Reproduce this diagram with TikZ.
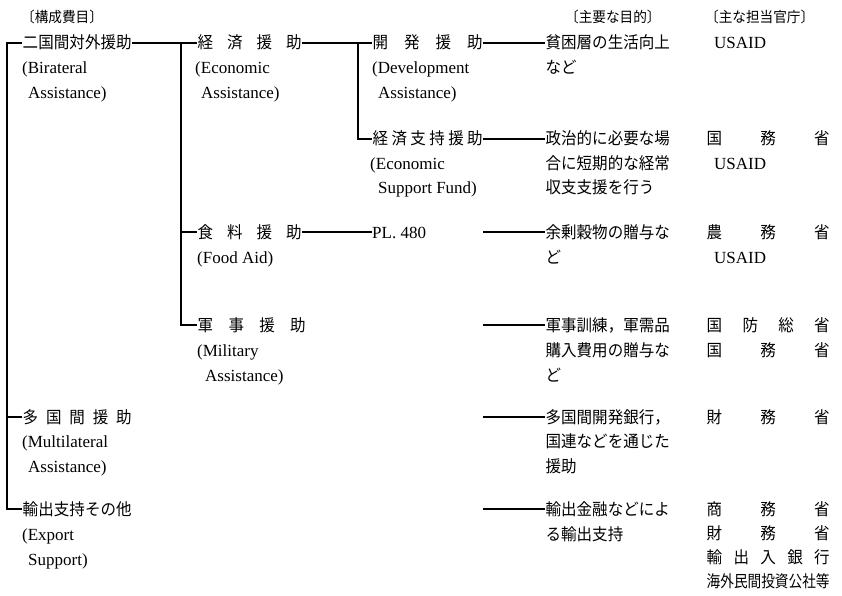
\documentclass[tikz,border=0pt]{standalone}
\usepackage{fontspec}
\usepackage{graphicx}
\setmainfont{Liberation Serif}
\newfontfamily\cjk[FakeStretch=0.94]{Noto Sans CJK JP}
\newcommand{\jw}[2]{\makebox[#1][s]{#2}}
\tikzset{
  lbl/.style={anchor=west, inner xsep=0.5pt, inner ysep=0pt, text height=13pt, text depth=1pt, font=\cjk\fontsize{16.5}{18}\selectfont},
  en/.style={anchor=west, inner sep=0pt, text height=13pt, text depth=1pt, font=\fontsize{17}{18}\selectfont},
  hdr/.style={anchor=west, inner sep=0pt, text height=13pt, text depth=1pt, font=\cjk\fontsize{14.5}{16}\selectfont},
  conn/.style={line width=1.3pt, line join=miter},
}
\begin{document}
\begin{tikzpicture}[x=1pt, y=-1pt]
\useasboundingbox (0,0) rectangle (842,596);
% headers
\node[hdr] (h1) at (21,17) {〔構成費目〕};
\node[hdr] (h2) at (565,17) {〔主要な目的〕};
\node[hdr] (h3) at (705,17) {〔主な担当官庁〕};
% trunk coordinates
\coordinate (t1) at (7,0);
\coordinate (t2) at (181,0);
\coordinate (t3) at (358,0);
\coordinate (c3) at (483,0);
% row 1
\node[lbl] (bil) at (22,43) {\jw{109pt}{二\hfill 国\hfill 間\hfill 対\hfill 外\hfill 援\hfill 助}};
\node[en] (bilE1) at (22,68) {(Birateral};
\node[en] (bilE2) at (28,93) {Assistance)};
\node[lbl] (eco) at (197,43) {\jw{104pt}{経\hfill 済\hfill 援\hfill 助}};
\node[en] (ecoE1) at (195,68) {(Economic};
\node[en] (ecoE2) at (201,93) {Assistance)};
\node[lbl] (dev) at (372,43) {\jw{110pt}{開\hfill 発\hfill 援\hfill 助}};
\node[en] (devE1) at (372,68) {(Development};
\node[en] (devE2) at (378,93) {Assistance)};
\node[lbl] (p1a) at (545,43) {貧困層の生活向上};
\node[lbl] (p1b) at (545,68) {など};
\node[en] (o1a) at (714,43) {USAID};
% row 2
\node[lbl] (esf) at (372,139) {\jw{110pt}{経\hfill 済\hfill 支\hfill 持\hfill 援\hfill 助}};
\node[en] (esfE1) at (370,163) {(Economic};
\node[en] (esfE2) at (378,187) {Support Fund)};
\node[lbl] (p2a) at (545,139) {政治的に必要な場};
\node[lbl] (p2b) at (545,163) {合に短期的な経常};
\node[lbl] (p2c) at (545,187) {収支支援を行う};
\node[lbl] (o2a) at (706,139) {\jw{123pt}{国\hfill 務\hfill 省}};
\node[en] (o2b) at (714,163) {USAID};
% row 3
\node[lbl] (food) at (197,232) {\jw{104pt}{食\hfill 料\hfill 援\hfill 助}};
\node[en] (foodE) at (197,257) {(Food Aid)};
\node[en] (pl) at (372,232) {PL. 480};
\node[lbl] (p3a) at (545,232) {余剰穀物の贈与な};
\node[lbl] (p3b) at (545,257) {ど};
\node[lbl] (o3a) at (706,232) {\jw{123pt}{農\hfill 務\hfill 省}};
\node[en] (o3b) at (714,257) {USAID};
% row 4
\node[lbl] (mil) at (197,325) {\jw{108pt}{軍\hfill 事\hfill 援\hfill 助}};
\node[en] (milE1) at (197,350) {(Military};
\node[en] (milE2) at (205,375) {Assistance)};
\node[lbl] (p4a) at (545,325) {軍事訓練，軍需品};
\node[lbl] (p4b) at (545,350) {購入費用の贈与な};
\node[lbl] (p4c) at (545,375) {ど};
\node[lbl] (o4a) at (706,325) {\jw{123pt}{国\hfill 防\hfill 総\hfill 省}};
\node[lbl] (o4b) at (706,350) {\jw{123pt}{国\hfill 務\hfill 省}};
% row 5
\node[lbl] (mul) at (22,417) {\jw{109pt}{多\hfill 国\hfill 間\hfill 援\hfill 助}};
\node[en] (mulE1) at (22,441) {(Multilateral};
\node[en] (mulE2) at (28,466) {Assistance)};
\node[lbl] (p5a) at (545,417) {多国間開発銀行，};
\node[lbl] (p5b) at (545,441) {国連などを通じた};
\node[lbl] (p5c) at (545,466) {援助};
\node[lbl] (o5a) at (706,417) {\jw{123pt}{財\hfill 務\hfill 省}};
% row 6
\node[lbl] (exp) at (22,509) {\jw{109pt}{輸\hfill 出\hfill 支\hfill 持\hfill そ\hfill の\hfill 他}};
\node[en] (expE1) at (22,534) {(Export};
\node[en] (expE2) at (28,559) {Support)};
\node[lbl] (p6a) at (545,509) {輸出金融などによ};
\node[lbl] (p6b) at (545,534) {る輸出支持};
\node[lbl] (o6a) at (706,509) {\jw{123pt}{商\hfill 務\hfill 省}};
\node[lbl] (o6b) at (706,533) {\jw{123pt}{財\hfill 務\hfill 省}};
\node[lbl] (o6c) at (706,557) {\jw{123pt}{輸\hfill 出\hfill 入\hfill 銀\hfill 行}};
\node[lbl] (o6d) at (706,581) {\scalebox{0.88}[1]{海外民間投資公社等}};
% connectors
\draw[conn] (bil.west) -- (bil.west -| t1) -- (exp.west -| t1) -- (exp.west);
\draw[conn] (mul.west -| t1) -- (mul.west);
\draw[conn] (bil.east) -- (eco.west);
\draw[conn] (eco.west -| t2) -- (mil.west -| t2) -- (mil.west);
\draw[conn] (food.west -| t2) -- (food.west);
\draw[conn] (eco.east) -- (dev.west);
\draw[conn] (dev.west -| t3) -- (esf.west -| t3) -- (esf.west);
\draw[conn] (dev.east) -- (p1a.west);
\draw[conn] (esf.east) -- (p2a.west);
\draw[conn] (food.east) -- (pl.west);
\draw[conn] (p3a.west -| c3) -- (p3a.west);
\draw[conn] (p4a.west -| c3) -- (p4a.west);
\draw[conn] (p5a.west -| c3) -- (p5a.west);
\draw[conn] (p6a.west -| c3) -- (p6a.west);
\end{tikzpicture}
\end{document}
